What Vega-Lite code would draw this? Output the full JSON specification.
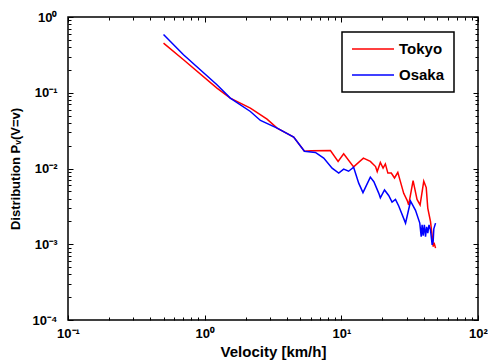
{
  "$schema": "https://vega.github.io/schema/vega-lite/v6.json",
  "width": 410,
  "height": 303,
  "autosize": {"type": "none"},
  "padding": {"left": 68, "top": 17, "right": 10, "bottom": 44},
  "background": "white",
  "config": {
    "view": {"stroke": "black", "strokeWidth": 1.5},
    "font": "Liberation Sans",
    "axis": {
      "grid": false,
      "domain": false,
      "tickColor": "black",
      "tickWidth": 1,
      "labelColor": "black",
      "titleColor": "black",
      "labelFont": "Liberation Sans",
      "labelFontWeight": "bold",
      "labelFontSize": 13,
      "titleFont": "Liberation Sans",
      "titleFontSize": 14,
      "titleFontWeight": "bold"
    }
  },
  "data": {
    "values": [
      {"city": "Tokyo", "v": 0.5, "p": 0.453},
      {"city": "Tokyo", "v": 0.7, "p": 0.273},
      {"city": "Tokyo", "v": 1.23, "p": 0.1153},
      {"city": "Tokyo", "v": 1.54, "p": 0.0851},
      {"city": "Tokyo", "v": 2.16, "p": 0.0628},
      {"city": "Tokyo", "v": 2.86, "p": 0.0449},
      {"city": "Tokyo", "v": 3.39, "p": 0.0342},
      {"city": "Tokyo", "v": 4.48, "p": 0.026},
      {"city": "Tokyo", "v": 5.37, "p": 0.0169},
      {"city": "Tokyo", "v": 6.0, "p": 0.0172},
      {"city": "Tokyo", "v": 8.32, "p": 0.0173},
      {"city": "Tokyo", "v": 9.47, "p": 0.0124},
      {"city": "Tokyo", "v": 10.4, "p": 0.0156},
      {"city": "Tokyo", "v": 12.3, "p": 0.0105},
      {"city": "Tokyo", "v": 14.5, "p": 0.0137},
      {"city": "Tokyo", "v": 16.3, "p": 0.0124},
      {"city": "Tokyo", "v": 17.8, "p": 0.0106},
      {"city": "Tokyo", "v": 18.3, "p": 0.0091},
      {"city": "Tokyo", "v": 19.3, "p": 0.012},
      {"city": "Tokyo", "v": 20.2, "p": 0.0101},
      {"city": "Tokyo", "v": 21.0, "p": 0.0115},
      {"city": "Tokyo", "v": 21.9, "p": 0.0087},
      {"city": "Tokyo", "v": 23.2, "p": 0.0087},
      {"city": "Tokyo", "v": 24.5, "p": 0.0075},
      {"city": "Tokyo", "v": 25.9, "p": 0.0089},
      {"city": "Tokyo", "v": 28.6, "p": 0.0047},
      {"city": "Tokyo", "v": 30.3, "p": 0.0038},
      {"city": "Tokyo", "v": 31.1, "p": 0.0033},
      {"city": "Tokyo", "v": 33.5, "p": 0.0069},
      {"city": "Tokyo", "v": 35.8, "p": 0.0039},
      {"city": "Tokyo", "v": 37.7, "p": 0.0033},
      {"city": "Tokyo", "v": 40.1, "p": 0.0068},
      {"city": "Tokyo", "v": 41.8, "p": 0.0056},
      {"city": "Tokyo", "v": 42.9, "p": 0.003},
      {"city": "Tokyo", "v": 44.9, "p": 0.002},
      {"city": "Tokyo", "v": 46.2, "p": 0.0013},
      {"city": "Tokyo", "v": 47.0, "p": 0.00093},
      {"city": "Tokyo", "v": 47.7, "p": 0.00105},
      {"city": "Tokyo", "v": 48.9, "p": 0.00089},
      {"city": "Osaka", "v": 0.5, "p": 0.589},
      {"city": "Osaka", "v": 0.7, "p": 0.318},
      {"city": "Osaka", "v": 1.23, "p": 0.1276},
      {"city": "Osaka", "v": 1.54, "p": 0.0851},
      {"city": "Osaka", "v": 2.16, "p": 0.0566},
      {"city": "Osaka", "v": 2.56, "p": 0.0431},
      {"city": "Osaka", "v": 3.39, "p": 0.0342},
      {"city": "Osaka", "v": 4.48, "p": 0.026},
      {"city": "Osaka", "v": 5.37, "p": 0.0169},
      {"city": "Osaka", "v": 6.46, "p": 0.0163},
      {"city": "Osaka", "v": 7.43, "p": 0.0137},
      {"city": "Osaka", "v": 8.56, "p": 0.0101},
      {"city": "Osaka", "v": 9.57, "p": 0.0087},
      {"city": "Osaka", "v": 10.4, "p": 0.0098},
      {"city": "Osaka", "v": 11.3, "p": 0.0092},
      {"city": "Osaka", "v": 12.3, "p": 0.0104},
      {"city": "Osaka", "v": 13.4, "p": 0.0064},
      {"city": "Osaka", "v": 14.4, "p": 0.0048},
      {"city": "Osaka", "v": 16.3, "p": 0.0077},
      {"city": "Osaka", "v": 17.3, "p": 0.0067},
      {"city": "Osaka", "v": 18.8, "p": 0.0047},
      {"city": "Osaka", "v": 19.3, "p": 0.0041},
      {"city": "Osaka", "v": 20.7, "p": 0.0052},
      {"city": "Osaka", "v": 22.2, "p": 0.0044},
      {"city": "Osaka", "v": 23.5, "p": 0.0036},
      {"city": "Osaka", "v": 24.9, "p": 0.0039},
      {"city": "Osaka", "v": 26.3, "p": 0.0032},
      {"city": "Osaka", "v": 29.5, "p": 0.0019},
      {"city": "Osaka", "v": 32.1, "p": 0.0037},
      {"city": "Osaka", "v": 34.9, "p": 0.0028},
      {"city": "Osaka", "v": 37.5, "p": 0.0019},
      {"city": "Osaka", "v": 38.4, "p": 0.00126},
      {"city": "Osaka", "v": 39.0, "p": 0.0018},
      {"city": "Osaka", "v": 39.7, "p": 0.0013},
      {"city": "Osaka", "v": 40.5, "p": 0.0018},
      {"city": "Osaka", "v": 41.3, "p": 0.00126},
      {"city": "Osaka", "v": 42.1, "p": 0.0017},
      {"city": "Osaka", "v": 42.9, "p": 0.0014},
      {"city": "Osaka", "v": 43.8, "p": 0.0018},
      {"city": "Osaka", "v": 44.9, "p": 0.00155},
      {"city": "Osaka", "v": 46.2, "p": 0.00098},
      {"city": "Osaka", "v": 47.0, "p": 0.0011},
      {"city": "Osaka", "v": 47.5, "p": 0.0016},
      {"city": "Osaka", "v": 48.9, "p": 0.0019}
    ]
  },
  "resolve": {"axis": {"x": "independent", "y": "independent"}},
  "layer": [
    {
      "mark": {"type": "line", "strokeWidth": 1.5, "clip": true},
      "encoding": {
        "x": {
          "field": "v", "type": "quantitative",
          "scale": {"type": "log", "domain": [0.1, 100], "nice": false},
          "axis": {
            "orient": "bottom", "values": [0.1, 1, 10, 100], "tickSize": 5, "offset": -5,
            "labelPadding": 7,
            "labelExpr": "datum.value < 0.5 ? '10⁻¹' : datum.value < 5 ? '10⁰' : datum.value < 50 ? '10¹' : '10²'",
            "labelFlush": false, "labelOverlap": false,
            "title": "Velocity [km/h]", "titlePadding": 4, "titleFontSize": 15
          }
        },
        "y": {
          "field": "p", "type": "quantitative",
          "scale": {"type": "log", "domain": [0.0001, 1], "nice": false},
          "axis": {
            "orient": "left", "values": [0.0001, 0.001, 0.01, 0.1, 1], "tickSize": 5, "offset": -5,
            "labelPadding": 11,
            "labelExpr": "datum.value < 0.0005 ? '10⁻⁴' : datum.value < 0.005 ? '10⁻³' : datum.value < 0.05 ? '10⁻²' : datum.value < 0.5 ? '10⁻¹' : '10⁰'",
            "labelFlush": false, "labelOverlap": false,
            "title": "Distribution Pᵥ(V=v)", "titlePadding": 10, "titleFontSize": 13
          }
        },
        "color": {
          "field": "city", "type": "nominal",
          "scale": {"domain": ["Tokyo", "Osaka"], "range": ["#ff0000", "#0000ff"]},
          "legend": {
            "orient": "none", "legendX": 274, "legendY": 15,
            "title": null, "strokeColor": "black", "fillColor": "white",
            "padding": 9, "symbolType": "M-3,0H3", "symbolSize": 196, "symbolOffset": 14,
            "symbolStrokeWidth": 1.5, "labelFontSize": 15, "labelFontWeight": "bold",
            "labelFont": "Liberation Sans", "labelColor": "black", "labelOffset": 18, "rowPadding": 10,
            "labelExpr": "datum.label + '\u00a0\u00a0\u00a0\u00a0\u00a0'",
            "encode": {"legend": {"update": {"strokeWidth": {"value": 1.5}}}}
          }
        }
      }
    },
    {
      "mark": {"type": "point", "opacity": 0},
      "encoding": {
        "x": {
          "field": "v", "type": "quantitative",
          "scale": {"type": "log", "domain": [0.1, 100], "nice": false},
          "axis": {"orient": "bottom", "values": [0.2,0.3,0.4,0.5,0.6,0.7,0.8,0.9,2,3,4,5,6,7,8,9,20,30,40,50,60,70,80,90], "tickSize": 3, "offset": -3, "labels": false, "title": null}
        },
        "y": {
          "field": "p", "type": "quantitative",
          "scale": {"type": "log", "domain": [0.0001, 1], "nice": false},
          "axis": {"orient": "left", "values": [0.0002,0.0003,0.0004,0.0005,0.0006,0.0007,0.0008,0.0009,0.002,0.003,0.004,0.005,0.006,0.007,0.008,0.009,0.02,0.03,0.04,0.05,0.06,0.07,0.08,0.09,0.2,0.3,0.4,0.5,0.6,0.7,0.8,0.9], "tickSize": 3, "offset": -3, "labels": false, "title": null}
        }
      }
    },
    {
      "mark": {"type": "point", "opacity": 0},
      "encoding": {
        "x": {
          "field": "v", "type": "quantitative",
          "scale": {"type": "log", "domain": [0.1, 100], "nice": false},
          "axis": {"orient": "top", "values": [0.1, 1, 10, 100], "tickSize": 5, "offset": -5, "labels": false, "title": null}
        },
        "y": {
          "field": "p", "type": "quantitative",
          "scale": {"type": "log", "domain": [0.0001, 1], "nice": false},
          "axis": {"orient": "right", "values": [0.0001, 0.001, 0.01, 0.1, 1], "tickSize": 5, "offset": -5, "labels": false, "title": null}
        }
      }
    },
    {
      "mark": {"type": "point", "opacity": 0},
      "encoding": {
        "x": {
          "field": "v", "type": "quantitative",
          "scale": {"type": "log", "domain": [0.1, 100], "nice": false},
          "axis": {"orient": "top", "values": [0.2,0.3,0.4,0.5,0.6,0.7,0.8,0.9,2,3,4,5,6,7,8,9,20,30,40,50,60,70,80,90], "tickSize": 3, "offset": -3, "labels": false, "title": null}
        },
        "y": {
          "field": "p", "type": "quantitative",
          "scale": {"type": "log", "domain": [0.0001, 1], "nice": false},
          "axis": {"orient": "right", "values": [0.0002,0.0003,0.0004,0.0005,0.0006,0.0007,0.0008,0.0009,0.002,0.003,0.004,0.005,0.006,0.007,0.008,0.009,0.02,0.03,0.04,0.05,0.06,0.07,0.08,0.09,0.2,0.3,0.4,0.5,0.6,0.7,0.8,0.9], "tickSize": 3, "offset": -3, "labels": false, "title": null}
        }
      }
    }
  ]
}
